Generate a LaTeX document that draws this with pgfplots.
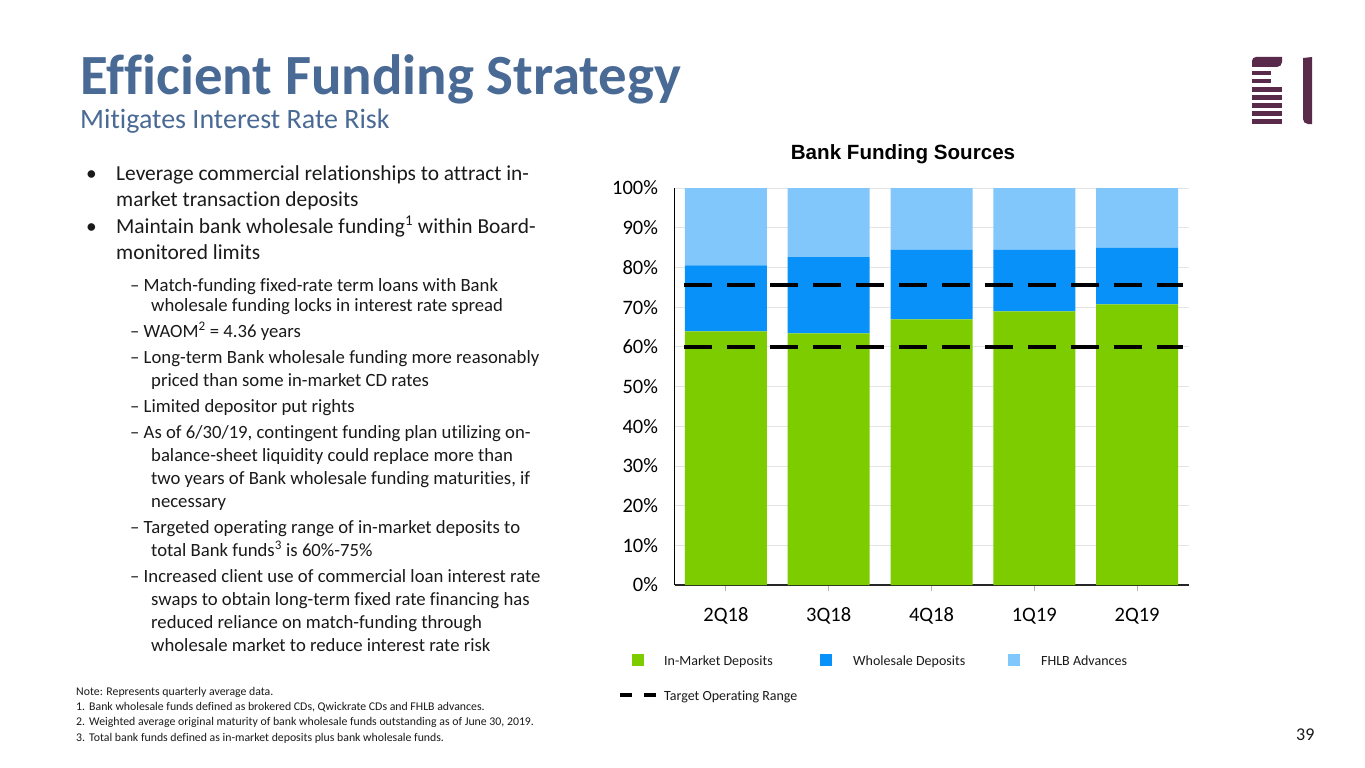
\documentclass[border=0pt]{standalone}
\usepackage{fontspec}
\setmainfont{Carlito}[Ligatures=NoCommon]
\newfontfamily\arialfont{Liberation Sans}
\usepackage{pgfplots}
\pgfplotsset{compat=1.18}

\definecolor{titleblue}{HTML}{4A6A96}
\definecolor{inmkt}{HTML}{7DCC00}
\definecolor{whsl}{HTML}{0891F8}
\definecolor{fhlb}{HTML}{82C7FC}
\definecolor{gridgray}{HTML}{E4E4E4}
\definecolor{logo}{HTML}{5A2A4A}
\definecolor{bodytxt}{HTML}{1A1A1A}

\newcommand{\fs}[1]{\fontsize{#1}{#1}\selectfont}

\begin{document}
\begin{tikzpicture}
\fill[white] (0,0) rectangle (1365pt,-768pt);
\useasboundingbox (0,0) rectangle (1365pt,-768pt);

\begin{scope}[x=1pt,y=-1pt]
% titles
\node[anchor=base west,inner sep=0,text=titleblue] at (80,95) {\fs{56.8}\bfseries Efficient Funding Strategy};
\node[anchor=base west,inner sep=0,text=titleblue] at (80,128) {\fs{28}Mitigates Interest Rate Risk};

% logo
\fill[logo] (1252,67) -- (1252,61) to[out=90,in=180] (1256,57) -- (1282,57) -- (1282,62) to[out=-90,in=0] (1277,67) -- cycle;
\fill[logo] (1252,71) rectangle (1271,75);
\fill[logo] (1252,79) rectangle (1271,83);
\foreach \yy in {87,95,103,111,119} \fill[logo] (1252,\yy) rectangle (1282,\yy+5);
\fill[logo] (1303,58) -- (1312,57) -- (1312,124) -- (1308,124) to[out=180,in=-90] (1303,119) -- cycle;

% bullet text
\begin{scope}[every node/.style={anchor=base west,inner sep=0,text=bodytxt}]
\node at (86,180) {\fs{21.4}•};
\node at (116,180) {\fs{21.4}Leverage commercial relationships to attract in-};
\node at (116,206) {\fs{21.4}market transaction deposits};
\node at (86,233) {\fs{21.4}•};
\node at (116,233) {\fs{21.4}Maintain bank wholesale funding\textsuperscript{1} within Board-};
\node at (116,259) {\fs{21.4}monitored limits};
\node at (130,291) {\fs{18.7}– Match-funding fixed-rate term loans with Bank};
\node at (151,311) {\fs{18.7}wholesale funding locks in interest rate spread};
\node at (130,337) {\fs{18.7}– WAOM\textsuperscript{2} = 4.36 years};
\node at (130,363) {\fs{18.7}– Long-term Bank wholesale funding more reasonably};
\node at (151,386) {\fs{18.7}priced than some in-market CD rates};
\node at (130,412) {\fs{18.7}– Limited depositor put rights};
\node at (130,438) {\fs{18.7}– As of 6/30/19, contingent funding plan utilizing on-};
\node at (151,461) {\fs{18.7}balance-sheet liquidity could replace more than};
\node at (151,484) {\fs{18.7}two years of Bank wholesale funding maturities, if};
\node at (151,507) {\fs{18.7}necessary};
\node at (130,533) {\fs{18.7}– Targeted operating range of in-market deposits to};
\node at (151,556) {\fs{18.7}total Bank funds\textsuperscript{3} is 60\%-75\%};
\node at (130,582) {\fs{18.7}– Increased client use of commercial loan interest rate};
\node at (151,605) {\fs{18.7}swaps to obtain long-term fixed rate financing has};
\node at (151,628) {\fs{18.7}reduced reliance on match-funding through};
\node at (151,651) {\fs{18.7}wholesale market to reduce interest rate risk};
% footnotes
\node at (76,695) {\fs{11.8}Note: Represents quarterly average data.};
\node at (76,710) {\fs{11.8}1.};
\node at (89,710) {\fs{11.8}Bank wholesale funds defined as brokered CDs, Qwickrate CDs and FHLB advances.};
\node at (76,725) {\fs{11.8}2.};
\node at (89,725) {\fs{11.8}Weighted average original maturity of bank wholesale funds outstanding as of June 30, 2019.};
\node at (76,741) {\fs{11.8}3.};
\node at (89,741) {\fs{11.8}Total bank funds defined as in-market deposits plus bank wholesale funds.};
\node at (1296,740) {\fs{18}39};
% legend
\node at (664,665) {\fs{14}In-Market Deposits};
\node at (853,665) {\fs{14}Wholesale Deposits};
\node at (1041,665) {\fs{14}FHLB Advances};
\node at (664,700) {\fs{14}Target Operating Range};
\end{scope}
\fill[inmkt] (632,654) rectangle (644,666);
\fill[whsl] (820,654) rectangle (832,666);
\fill[fhlb] (1008,654) rectangle (1020,666);
\draw[black,line width=4pt] (620,695) -- (632,695) (644,695) -- (656,695);

% chart title
\node[inner sep=0] at (903,154) {\arialfont\fs{20.6}\bfseries Bank Funding Sources};
\end{scope}

\begin{axis}[
  at={(674.5pt,-585pt)}, anchor=south west, scale only axis,
  width=514pt, height=397pt,
  xmin=-0.5, xmax=4.5, ymin=0, ymax=100,
  ybar stacked, bar width=82pt,
  axis x line*=bottom, axis y line*=left,
  xtick={0,...,4}, xticklabels={2Q18,3Q18,4Q18,1Q19,2Q19},
  ytick={0,10,...,100},
  yticklabel={\pgfmathprintnumber{\tick}\%},
  /pgf/number format/assume math mode=true,
  ymajorgrids, grid style={draw=gridgray, line width=0.8pt},
  tick label style={font=\fs{20.5}},
  x axis line style={draw=black!85, line width=1.2pt},
  y axis line style={draw=black, line width=1.2pt},
  ytick style={draw=none},
  xtick style={draw=gray!60, line width=1pt},
  major tick length=6pt, tick align=outside,
  xticklabel style={anchor=base, yshift=-30pt},
  yticklabel style={xshift=-7pt},
  clip=false,
]
\addplot[fill=inmkt, draw=none] coordinates {(0,63.9) (1,63.4) (2,66.9) (3,68.9) (4,70.7)};
\addplot[fill=whsl, draw=none] coordinates {(0,16.6) (1,19.2) (2,17.6) (3,15.5) (4,14.2)};
\addplot[fill=fhlb, draw=none] coordinates {(0,19.5) (1,17.4) (2,15.5) (3,15.6) (4,15.1)};
\end{axis}

\begin{axis}[
  at={(674.5pt,-585pt)}, anchor=south west, scale only axis,
  width=514pt, height=397pt,
  xmin=-0.5, xmax=4.5, ymin=0, ymax=100,
  axis lines=none, clip=false,
]
\addplot[black, line width=4pt, dash pattern=on 28pt off 15pt] coordinates {(-0.41,75.6) (4.45,75.6)};
\addplot[black, line width=4pt, dash pattern=on 28pt off 15pt] coordinates {(-0.41,60) (4.45,60)};
\end{axis}
\end{tikzpicture}
\end{document}
